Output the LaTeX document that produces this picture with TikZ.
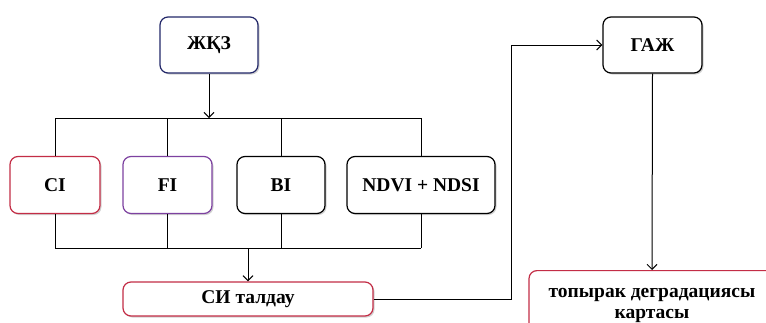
\documentclass[tikz,border=0pt]{standalone}
\usepackage{fontspec}
\setmainfont{Liberation Serif}
\usetikzlibrary{arrows.meta,positioning,shadows}
\definecolor{navy}{RGB}{35,40,105}
\definecolor{redbox}{RGB}{195,45,70}
\definecolor{purplebox}{RGB}{125,65,160}

\begin{document}
\begin{tikzpicture}[x=1pt,y=-1pt,
  box/.style={draw,line width=1.2pt,rounded corners=8pt,fill=white,
    font=\fontsize{19.5}{22.5}\selectfont\bfseries,
    drop shadow={shadow xshift=1.5pt,shadow yshift=-1.5pt,opacity=0.35}},
  link/.style={line width=1pt},
  >={Straight Barb[length=5pt,width=10pt]}]
\clip (0,0) rectangle (766,322);
\fill[white] (0,0) rectangle (766,322);
% top row
\node[box,draw=navy,minimum width=98pt,minimum height=56pt] (zhkz) at (209,45) {ЖҚЗ};
\node[box,minimum width=99pt,minimum height=56pt] (gazh) at (652.5,45) {ГАЖ};
% index boxes
\node[box,draw=redbox,minimum width=90pt,minimum height=57pt] (ci) at (55,185) {CI};
\node[box,draw=purplebox,minimum width=89pt,minimum height=57pt] (fi) at (167.5,185) {FI};
\node[box,minimum width=88pt,minimum height=57pt] (bi) at (281,185) {BI};
\node[box,minimum width=148pt,minimum height=57pt] (ndvi) at (421,185) {NDVI + NDSI};
% bottom row
\node[box,draw=redbox,minimum width=250pt,minimum height=34pt] (si) at (248,299) {СИ талдау};
\node[box,draw=redbox,anchor=north,align=center,minimum width=246pt,minimum height=70pt,inner ysep=10.5pt] (map) at (652,270) {топырак деградациясы\\[-1.5pt]картасы};
\coordinate (tb) at (209,118);
\coordinate (bb) at (248,248);
\draw[link,->] (zhkz.south) -- (tb);
\draw[link] (ci.north |- tb) -- (ndvi.north |- tb);
\draw[link] (ci.north) -- (ci.north |- tb);
\draw[link] (fi.north) -- (fi.north |- tb);
\draw[link] (bi.north) -- (bi.north |- tb);
\draw[link] (ndvi.north) -- (ndvi.north |- tb);
\draw[link] (ci.south |- bb) -- (ndvi.south |- bb);
\draw[link] (ci.south) -- (ci.south |- bb);
\draw[link] (fi.south) -- (fi.south |- bb);
\draw[link] (bi.south) -- (bi.south |- bb);
\draw[link] (ndvi.south) -- (ndvi.south |- bb);
\draw[link,->] (bb) -- (si.north);
\draw[link,->] (si.east) -- ++(138,0) |- (gazh.west);
\draw[link,->] (gazh.south) -- (map.north);
\end{tikzpicture}
\end{document}
